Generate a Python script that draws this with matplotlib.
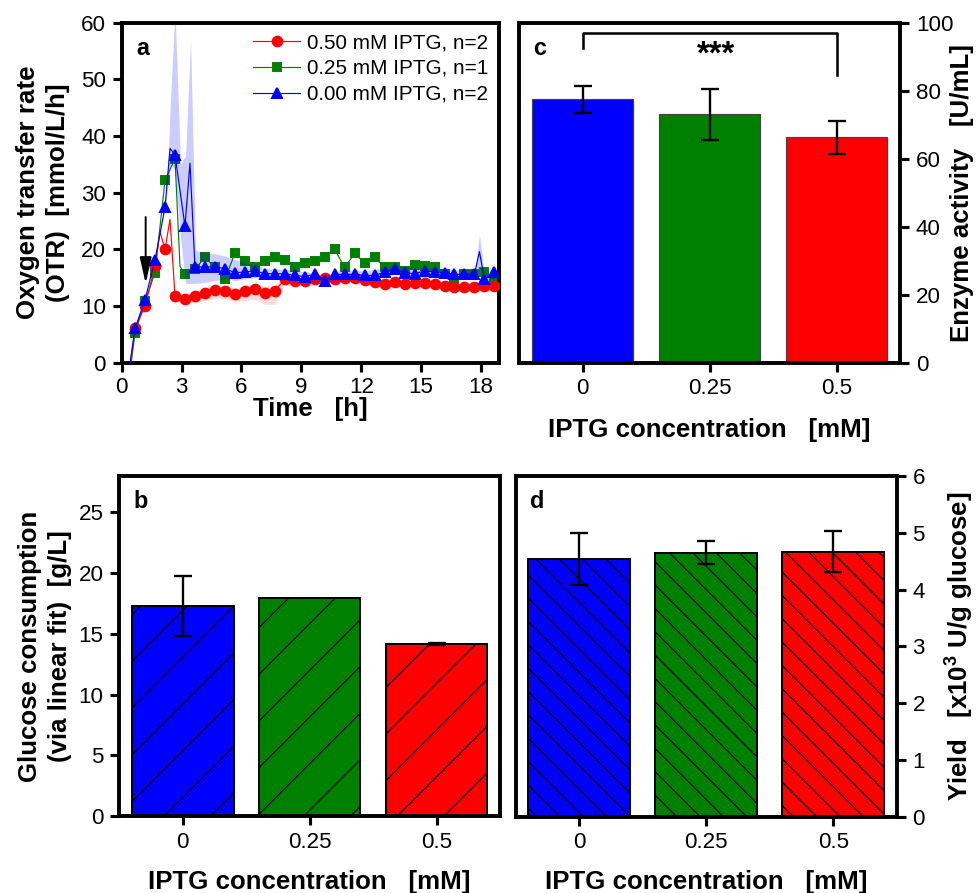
import matplotlib
matplotlib.use('Agg')
import matplotlib.pyplot as plt

plt.rcParams['font.family'] = ['Liberation Sans', 'DejaVu Sans']
plt.rcParams['mathtext.fontset'] = 'custom'
plt.rcParams['mathtext.rm'] = 'Liberation Sans'
plt.rcParams['mathtext.bf'] = 'Liberation Sans:bold'
plt.rcParams['hatch.linewidth'] = 0.6
plt.rcParams['axes.linewidth'] = 2.0

# --- OTR time courses (a) ---
red_t = [0.42, 0.67, 1.17, 1.67, 1.92, 2.17, 2.42, 2.67, 3.17, 3.67, 4.17, 4.67, 5.17, 5.67,
         6.17, 6.67, 7.17, 7.67, 8.17, 8.67, 9.17, 9.67, 10.17, 10.67, 11.17, 11.67, 12.17,
         12.67, 13.17, 13.67, 14.17, 14.67, 15.17, 15.67, 16.17, 16.67, 17.17, 17.67, 18.17, 18.67]
red_v = [-0.5, 6.1, 10.0, 17.0, 23.1, 20.0, 25.3, 11.8, 11.2, 11.8, 12.3, 12.8, 12.6, 12.2,
         12.6, 13.0, 12.3, 12.7, 14.7, 14.4, 14.4, 14.7, 15.0, 14.7, 15.0, 15.0, 14.6,
         14.3, 13.9, 14.3, 13.9, 14.0, 14.0, 13.9, 13.5, 13.3, 13.3, 13.3, 13.5, 13.5]
red_line_only = [0.42, 1.92, 2.42]

green_t = [0.42, 0.67, 1.17, 1.67, 2.17, 2.67, 2.92, 3.17, 3.67, 4.17, 4.67, 5.17, 5.67,
           6.17, 6.67, 7.17, 7.67, 8.17, 8.67, 9.17, 9.67, 10.17, 10.67, 11.17, 11.67, 12.17,
           12.67, 13.17, 13.67, 14.17, 14.67, 15.17, 15.67, 16.17, 16.67, 17.17, 17.67, 18.17, 18.67]
green_v = [-1.5, 5.3, 10.8, 15.9, 32.2, 36.0, 17.0, 15.6, 16.5, 18.6, 16.8, 14.7, 19.3,
           18.0, 16.8, 18.0, 18.7, 18.2, 16.9, 17.6, 18.0, 18.6, 20.0, 16.8, 19.3, 17.6,
           18.6, 16.8, 16.8, 16.2, 17.2, 17.0, 16.8, 15.7, 14.5, 15.6, 15.6, 16.0, 14.5]
green_line_only = [0.42, 2.92]

blue_t = [0.42, 0.67, 1.17, 1.67, 2.17, 2.42, 2.67, 3.17, 3.42, 3.67, 4.17, 4.67, 5.17, 5.67,
          6.17, 6.67, 7.17, 7.67, 8.17, 8.67, 9.17, 9.67, 10.17, 10.67, 11.17, 11.67, 12.17,
          12.67, 13.17, 13.67, 14.17, 14.67, 15.17, 15.67, 16.17, 16.67, 17.17, 17.67, 17.92,
          18.17, 18.67]
blue_v = [0.0, 6.1, 11.1, 18.2, 27.4, 37.8, 36.7, 24.1, 35.2, 16.9, 16.9, 16.9, 16.6, 15.9,
          16.0, 16.2, 15.7, 15.7, 15.7, 15.4, 15.2, 15.6, 14.5, 15.6, 15.6, 15.6, 15.4,
          15.4, 16.0, 16.6, 15.9, 15.7, 16.2, 16.0, 15.9, 15.6, 15.6, 15.6, 19.6,
          14.7, 16.0]
blue_line_only = [0.42, 2.42, 3.42, 17.92]

# replicate spread (n=2)
blue_band_t = [2.17, 2.30, 2.45, 2.67, 2.95, 3.20, 3.45, 3.70, 4.20, 4.70, 5.20, 5.70, 6.20,
               6.70, 7.20, 8.20, 9.20, 10.20, 11.20, 12.20, 13.20, 13.70, 14.70, 15.70,
               16.70, 17.70, 17.92, 18.17, 18.67]
blue_band_lo = [27.0, 31.0, 35.0, 34.0, 22.0, 14.0, 14.0, 14.0, 14.2, 14.5, 14.8, 14.5, 14.8,
                15.0, 14.9, 14.9, 14.4, 13.9, 14.8, 14.6, 15.2, 15.8, 14.9, 15.2,
                14.8, 14.8, 17.0, 14.0, 15.0]
blue_band_hi = [28.0, 34.0, 47.0, 62.0, 35.0, 36.5, 57.0, 19.8, 19.4, 19.2, 18.8, 18.2, 17.6,
                17.3, 16.6, 16.5, 16.1, 15.4, 16.4, 16.2, 16.8, 17.4, 16.5, 16.8,
                16.4, 16.4, 22.6, 15.4, 17.2]

red_band_t = [2.67, 3.17, 3.67, 4.17, 4.67, 5.17, 5.67, 6.17, 6.67, 7.17, 7.67, 8.17, 9.17,
              10.17, 11.17, 12.17, 13.17, 14.17, 15.17, 16.17, 17.17, 18.67]
red_band_lo = [11.3, 10.5, 10.6, 11.0, 11.3, 11.2, 10.8, 11.0, 11.2, 10.3, 10.3, 14.0, 13.9,
               14.5, 14.5, 14.1, 13.5, 13.5, 13.6, 13.1, 12.9, 13.1]
red_band_hi = [12.3, 12.0, 12.6, 13.2, 13.6, 13.5, 13.2, 13.6, 14.0, 13.5, 13.6, 15.3, 14.9,
               15.5, 15.5, 15.1, 14.4, 14.4, 14.4, 13.9, 13.7, 13.9]

induction_t = 1.2
induction_from, induction_to = 25.7, 14.0

# --- endpoint results (b, c, d) ---
iptg_labels = ['0', '0.25', '0.5']
bar_colors = ['#0000FF', '#008000', '#FF0000']

glucose = [17.3, 17.93, 14.16]
glucose_err = [2.45, None, 0.08]

activity = [77.5, 73.1, 66.3]
activity_err = [4.0, 7.5, 4.9]

yield_vals = [4.54, 4.65, 4.67]
yield_err = [0.46, 0.20, 0.36]

DPI = 140
W, H = 976, 893
fig = plt.figure(figsize=(W / DPI, H / DPI), dpi=DPI)


def box(left, top, right, bottom):
    return [left / W, 1 - bottom / H, (right - left) / W, (bottom - top) / H]


ax_a = fig.add_axes(box(121.7, 22.7, 499, 362.7))
ax_c = fig.add_axes(box(519, 22.7, 900, 362.7))
ax_b = fig.add_axes(box(119.3, 476, 500, 816))
ax_d = fig.add_axes(box(515.7, 476, 896.7, 816.7))

TICK = dict(direction='out', length=4.5, width=1.6, labelsize=11.5, pad=3.6)
LBL = dict(fontsize=13.3, fontweight='bold')


def marker_idx(ts, skip):
    return [i for i, t in enumerate(ts) if t not in skip]


# panel a
ax_a.plot(green_t, green_v, color='#008000', lw=0.6, marker='s', ms=4.5,
          markevery=marker_idx(green_t, green_line_only), label='0.25 mM IPTG, n=1', zorder=2)
ax_a.fill_between(red_band_t, red_band_lo, red_band_hi, color='#FF0000', alpha=0.14, lw=0, zorder=3)
ax_a.plot(red_t, red_v, color='#FF0000', lw=0.6, marker='o', ms=5.0,
          markevery=marker_idx(red_t, red_line_only), label='0.50 mM IPTG, n=2', zorder=4)
ax_a.fill_between(blue_band_t, blue_band_lo, blue_band_hi, color='#0000FF', alpha=0.2, lw=0, zorder=5)
ax_a.plot(blue_t, blue_v, color='#0000FF', lw=0.6, marker='^', ms=5.6,
          markevery=marker_idx(blue_t, blue_line_only), label='0.00 mM IPTG, n=2', zorder=6)

ax_a.annotate('', xy=(induction_t, induction_to), xytext=(induction_t, induction_from),
              arrowprops=dict(arrowstyle='-|>,head_length=0.75,head_width=0.17', color='k',
                              lw=1.0, shrinkA=0, shrinkB=0, mutation_scale=15), zorder=7)

ax_a.set_xlim(0, 18.9)
ax_a.set_ylim(0, 60)
ax_a.set_xticks(range(0, 19, 3))
ax_a.set_yticks(range(0, 61, 10))
ax_a.tick_params(**TICK)
ax_a.tick_params(axis='x', pad=3.0)
ax_a.set_xlabel('Time   [h]', **LBL)
ax_a.xaxis.set_label_coords(0.5, -0.102)
ax_a.set_ylabel('Oxygen transfer rate\n(OTR)  [mmol/L/h]', linespacing=1.3, **LBL)
ax_a.yaxis.set_label_coords(-0.137, 0.5)
ax_a.text(0.038, 0.925, 'a', transform=ax_a.transAxes, fontsize=12, fontweight='bold', va='center')

h, l = ax_a.get_legend_handles_labels()
order = [1, 0, 2]
ax_a.legend([h[i] for i in order], [l[i] for i in order], loc='upper right', frameon=False,
            fontsize=10.7, numpoints=1, handlelength=2.25, handletextpad=0.35,
            labelspacing=0.33, borderaxespad=0.3, borderpad=0.2)

xs = range(len(iptg_labels))


def err_bars(ax, vals, errs):
    for x, v, e in zip(xs, vals, errs):
        if e is None:
            continue
        ax.errorbar(x, v, yerr=e, fmt='none', ecolor='k', elinewidth=1.2, capsize=4.5,
                    capthick=1.2, zorder=4)


def bar_axes(ax, side, xlab_y):
    ax.set_xlim(-0.5, 2.5)
    ax.set_xticks(list(xs))
    ax.set_xticklabels(iptg_labels)
    if side == 'right':
        ax.yaxis.tick_right()
        ax.yaxis.set_label_position('right')
    ax.tick_params(**TICK)
    ax.set_xlabel('IPTG concentration   [mM]', **LBL)
    ax.xaxis.set_label_coords(0.5, xlab_y)


# panel c
ax_c.bar(xs, activity, width=0.8, color=bar_colors, edgecolor='#444444', linewidth=0.6, zorder=2)
err_bars(ax_c, activity, activity_err)
ax_c.plot([0, 0, 2, 2], [92.5, 96.9, 96.9, 84.6], color='k', lw=1.3)
ax_c.text(1.05, 90.5, '***', ha='center', va='center', fontsize=17, fontweight='bold')
ax_c.set_ylim(0, 100)
ax_c.set_yticks(range(0, 101, 20))
bar_axes(ax_c, 'right', -0.163)
ax_c.set_ylabel('Enzyme activity   [U/mL]', **LBL)
ax_c.yaxis.set_label_coords(1.131, 0.5)
ax_c.text(0.038, 0.925, 'c', transform=ax_c.transAxes, fontsize=12, fontweight='bold', va='center')

# panel b
ax_b.bar(xs, glucose, width=0.8, color=bar_colors, edgecolor='k', linewidth=1.0,
         hatch='/', zorder=2)
err_bars(ax_b, glucose, glucose_err)
ax_b.set_ylim(0, 28)
ax_b.set_yticks(range(0, 26, 5))
bar_axes(ax_b, 'left', -0.158)
ax_b.set_ylabel('Glucose consumption\n(via linear fit)  [g/L]', linespacing=1.3, **LBL)
ax_b.yaxis.set_label_coords(-0.125, 0.5)
ax_b.text(0.038, 0.925, 'b', transform=ax_b.transAxes, fontsize=12, fontweight='bold', va='center')

# panel d
ax_d.bar(xs, yield_vals, width=0.8, color=bar_colors, edgecolor='k', linewidth=1.0,
         hatch='\\\\', zorder=2)
err_bars(ax_d, yield_vals, yield_err)
ax_d.set_ylim(0, 6)
ax_d.set_yticks(range(0, 7))
bar_axes(ax_d, 'right', -0.155)
ax_d.set_ylabel(r'Yield   [x10$^\mathbf{3}$ U/g glucose]', **LBL)
ax_d.yaxis.set_label_coords(1.12, 0.5)
ax_d.text(0.038, 0.925, 'd', transform=ax_d.transAxes, fontsize=12, fontweight='bold', va='center')

fig.savefig('out.png', dpi=DPI)
